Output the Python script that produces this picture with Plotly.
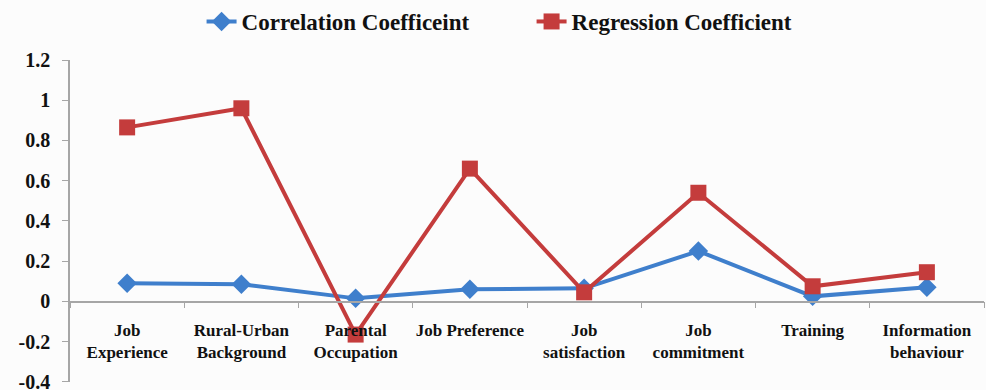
import plotly.graph_objects as go

categories = ["Job<br>Experience", "Rural-Urban<br>Background", "Parental<br>Occupation",
              "Job Preference", "Job<br>satisfaction", "Job<br>commitment", "Training",
              "Information<br>behaviour"]
correlation = [0.09, 0.085, 0.015, 0.06, 0.065, 0.25, 0.025, 0.07]
regression = [0.865, 0.96, -0.165, 0.66, 0.045, 0.54, 0.075, 0.145]
y_ticks = [-0.4, -0.2, 0, 0.2, 0.4, 0.6, 0.8, 1, 1.2]
y_tick_labels = ["-0.4", "-0.2", "0", "0.2", "0.4", "0.6", "0.8", "1", "1.2"]

FONT = "Liberation Serif"
fig = go.Figure()
fig.add_trace(go.Scatter(x=categories, y=correlation, mode="lines+markers",
                         name="<b>Correlation Coefficeint</b>",
                         line=dict(color="#3F7FCC", width=4),
                         marker=dict(symbol="diamond", size=15, color="#3F7FCC")))
fig.add_trace(go.Scatter(x=categories, y=regression, mode="lines+markers",
                         name="<b>Regression Coefficient</b>",
                         line=dict(color="#C43C3C", width=4),
                         marker=dict(symbol="square", size=16, color="#C43C3C")))

fig.update_layout(
    width=986, height=390,
    margin=dict(l=70, r=2, t=60, b=8),
    paper_bgcolor="#FCFCFC", plot_bgcolor="#FCFCFC",
    font=dict(family=FONT, color="#111111"),
    showlegend=True,
    legend=dict(orientation="h", x=0.505, xanchor="center", y=1.0, yanchor="top",
                yref="container", font=dict(family=FONT, size=23, color="#111111"),
                entrywidth=285, entrywidthmode="pixels",
                bgcolor="rgba(0,0,0,0)"),
    xaxis=dict(type="category", range=[-0.5, 7.5], anchor="free", position=0.25,
               showline=True, linecolor="#A6A6A6", linewidth=1.5,
               ticks="outside", tickson="boundaries", ticklen=6, tickcolor="#A6A6A6",
               showgrid=False, zeroline=False, tickangle=0, automargin=False,
               tickfont=dict(family=FONT, size=17, color="#111111"),
               ticklabelstandoff=13),
    yaxis=dict(range=[-0.4008, 1.2], tickvals=y_ticks,
               ticktext=["<b>%s</b>" % t for t in y_tick_labels],
               showline=True, linecolor="#A6A6A6", linewidth=1.5,
               ticks="outside", ticklen=6, tickcolor="#A6A6A6", automargin=False,
               showgrid=False, zeroline=False, ticklabelstandoff=8,
               ticklabeloverflow="allow",
               tickfont=dict(family=FONT, size=20, color="#111111")),
)
fig.update_xaxes(ticktext=["<b>%s</b>" % c for c in categories], tickvals=categories)
fig.write_html("out.html")
